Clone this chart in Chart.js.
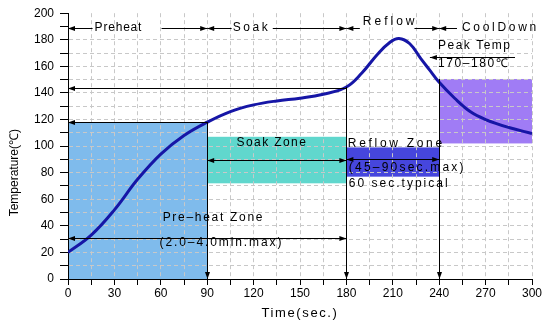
<!DOCTYPE html>
<html>
<head>
<meta charset="utf-8">
<script src="https://cdn.jsdelivr.net/npm/chart.js@4.4.0/dist/chart.umd.min.js"></script>
<style>
  html, body { margin: 0; padding: 0; background: #fff; }
  #wrap { width: 554px; height: 323px; }
</style>
</head>
<body>
<div id="wrap"><canvas id="chart"></canvas></div>
<script>
// reflow profile
const timeSec = [0, 15, 30, 45, 60, 75, 90, 105, 120, 135, 150, 165, 180, 190, 200, 208, 214, 221, 228, 234, 240, 250, 260, 270, 285, 300];
const tempC = [20, 33, 52, 75, 94, 108, 118, 126, 131, 134, 136, 139, 144.5, 155, 169, 178, 181, 177, 166, 157, 148, 136, 126, 120, 114, 109.5];

// shaded zones (sec / degC)
const zoneFrom = [0, 90, 180, 240];
const zoneTo = [90, 180, 240, 300];
const zoneLow = [0, 72, 77, 102];
const zoneHigh = [118, 107, 99, 150.5];

// arrows: x1, y1, x2, y2, head at start, head at end
const arrows = [
  [0, 189, 15.9, 189, true, false],
  [60.5, 189, 90, 189, false, true],
  [90, 189, 105.8, 189, true, false],
  [132.4, 189, 180, 189, false, true],
  [180, 189, 188.7, 189, true, false],
  [224, 189, 240, 189, false, true],
  [240, 189, 251.5, 189, true, false],
  [0, 118, 90, 118, true, false],
  [0, 144, 180, 144, true, false],
  [90, 118, 90, 0, false, true],
  [180, 144.5, 180, 0, false, true],
  [240, 150.5, 240, 0, false, true],
  [0, 31, 180, 31, true, true],
  [90, 89.4, 180, 89.4, true, true],
  [180, 90, 240, 90, true, true],
  [289, 167, 234, 167, false, true]
];

// labels: text, x, y (left edge, middle)
const notes = [
  ['Preheat', 17.2, 189],
  ['Soak', 106.5, 189],
  ['Reflow', 190.6, 193.5],
  ['CoolDown', 254.7, 189],
  ['Peak Temp', 239.2, 175.5],
  ['170\u2013180\u2103', 239.2, 162],
  ['Soak Zone', 109, 102.5],
  ['Reflow Zone', 180.9, 102],
  ['(45\u201390sec.max)', 181.6, 83.4],
  ['60 sec.typical', 181.6, 71.4],
  ['Pre\u2013heat Zone', 61.2, 46],
  ['(2.0\u20134.0min.max)', 59.2, 27.2]
];

const zoneColors = ['#7fbbec', '#60d7cd', '#4646dd', '#a07cf5'];
const noteSpacing = [0.8, 2.6, 3, 2.7, 1.5, 1.6, 1.4, 2.7, 2.2, 2, 1.7, 1.9];
const FONT = '"Liberation Sans", Arial, sans-serif';

function arrowHead(ctx, x1, y1, x2, y2) {
  const a = Math.atan2(y2 - y1, x2 - x1);
  const L = 7, W = 2.5;
  const c = Math.cos(a), s = Math.sin(a);
  ctx.beginPath();
  ctx.moveTo(x2, y2);
  ctx.lineTo(x2 - L * c + W * s, y2 - L * s - W * c);
  ctx.lineTo(x2 - L * c - W * s, y2 - L * s + W * c);
  ctx.closePath();
  ctx.fill();
}

const crisp = (v) => Math.round(v) + 0.5;

const profilePlugin = {
  id: 'profile',
  beforeDraw(chart) {
    const { ctx, scales: { x, y } } = chart;
    ctx.save();
    for (let i = 0; i < zoneFrom.length; i++) {
      const l = x.getPixelForValue(zoneFrom[i]);
      const r = x.getPixelForValue(zoneTo[i]);
      const t = y.getPixelForValue(zoneHigh[i]);
      const b = y.getPixelForValue(zoneLow[i]);
      ctx.fillStyle = zoneColors[i];
      ctx.fillRect(l, t, r - l, b - t);
    }
    ctx.restore();
  },
  afterDraw(chart) {
    const { ctx, scales: { x, y } } = chart;
    ctx.save();
    ctx.strokeStyle = '#000';
    ctx.fillStyle = '#000';
    ctx.lineWidth = 1;
    arrows.forEach(([a1, b1, a2, b2, hs, he]) => {
      let x1 = x.getPixelForValue(a1), y1 = y.getPixelForValue(b1);
      let x2 = x.getPixelForValue(a2), y2 = y.getPixelForValue(b2);
      if (y1 === y2) { y1 = y2 = crisp(y1); }
      if (x1 === x2) { x1 = x2 = crisp(x1); }
      ctx.beginPath();
      ctx.moveTo(x1, y1);
      ctx.lineTo(x2, y2);
      ctx.stroke();
      if (hs) arrowHead(ctx, x2, y2, x1, y1);
      if (he) arrowHead(ctx, x1, y1, x2, y2);
    });

    ctx.font = '12px ' + FONT;
    ctx.textBaseline = 'middle';
    ctx.textAlign = 'left';
    notes.forEach(([txt, a, b], i) => {
      ctx.letterSpacing = noteSpacing[i] + 'px';
      ctx.fillText(txt, x.getPixelForValue(a), y.getPixelForValue(b));
    });

    // axis titles
    ctx.letterSpacing = '0px';
    ctx.textAlign = 'center';
    ctx.save();
    ctx.translate(x.left - 53, y.getPixelForValue(80));
    ctx.rotate(-Math.PI / 2);
    ctx.font = '12px ' + FONT;
    ctx.fillText('Temperature(\u2103)', 0, 0);
    ctx.restore();
    ctx.font = '13px ' + FONT;
    ctx.letterSpacing = '1.6px';
    ctx.fillText('Time(sec.)', x.getPixelForValue(150), 313);
    ctx.restore();
  }
};

new Chart(document.getElementById('chart'), {
  type: 'line',
  data: {
    datasets: [{
      data: timeSec.map((t, i) => ({ x: t, y: tempC[i] })),
      borderColor: '#1616a6',
      borderWidth: 3,
      pointRadius: 0,
      tension: 0.4,
      fill: false
    }]
  },
  options: {
    responsive: true,
    maintainAspectRatio: false,
    animation: false,
    devicePixelRatio: 1,
    layout: { padding: { top: 12, right: 22, left: 0, bottom: 0 } },
    plugins: { legend: { display: false }, tooltip: { enabled: false } },
    scales: {
      x: {
        type: 'linear',
        min: 0,
        max: 300,
        afterFit: (s) => { s.height = 44; },
        ticks: {
          stepSize: 15,
          autoSkip: false,
          maxRotation: 0,
          padding: 1,
          color: '#000',
          font: { family: FONT, size: 12 },
          callback: (v) => (v % 30 === 0 ? v : '')
        },
        grid: { color: '#c8c8c8', tickColor: '#000', tickLength: 6 },
        border: { color: '#000', width: 1, dash: [4, 3] }
      },
      y: {
        min: 0,
        max: 200,
        afterFit: (s) => { s.width = 68; },
        ticks: {
          stepSize: 10,
          autoSkip: false,
          padding: 6,
          color: '#000',
          font: { family: FONT, size: 12 },
          callback: (v) => (v % 20 === 0 ? v : '')
        },
        grid: {
          color: (c) => (c.tick && c.tick.value >= 190 ? 'rgba(0,0,0,0)' : '#c8c8c8'),
          tickColor: '#000',
          tickLength: 8
        },
        border: { color: '#000', width: 1, dash: [4, 3] }
      }
    }
  },
  plugins: [profilePlugin]
});
</script>
</body>
</html>
